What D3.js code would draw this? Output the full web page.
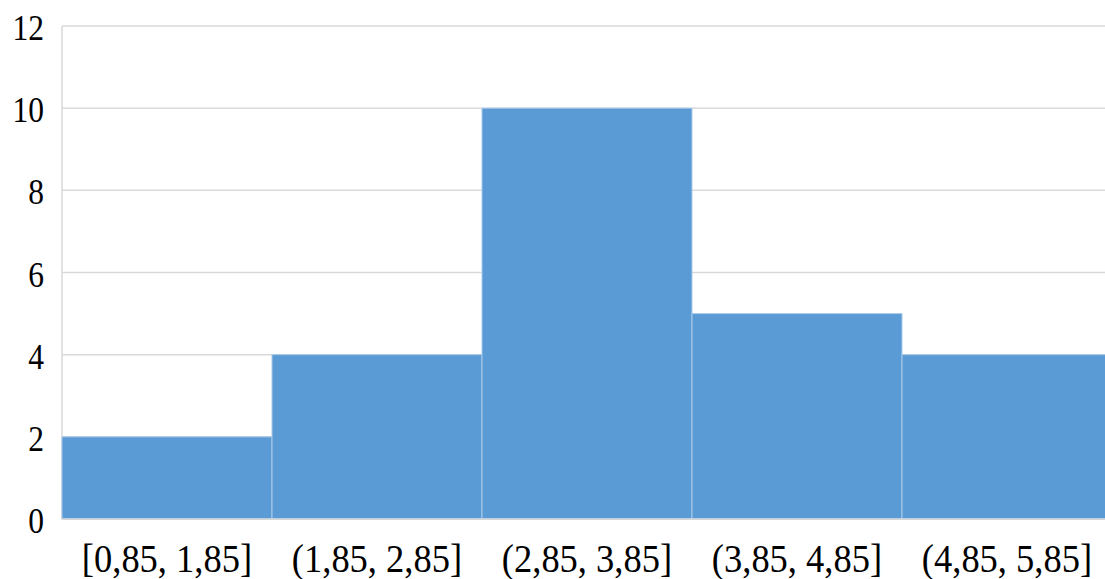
<!DOCTYPE html>
<html><head><meta charset="utf-8">
<script src="https://cdn.jsdelivr.net/npm/d3@7"></script>
<style>html,body{margin:0;padding:0;background:#fff;overflow:hidden}</style>
</head><body>
<svg id="c" width="1105" height="579"></svg>
<script>
const categories = ["[0,85, 1,85]", "(1,85, 2,85]", "(2,85, 3,85]", "(3,85, 4,85]", "(4,85, 5,85]"];
const counts = [2, 4, 10, 5, 4];
const yTicks = [0, 2, 4, 6, 8, 10, 12];

(function () {
const svg = d3.select("#c");
const mLeft = 62, mRight = 1112, mTop = 26, mBottom = 519;
const x = d3.scaleBand().domain(categories).range([mLeft, mRight]).padding(0);
const y = d3.scaleLinear().domain([0, 12]).range([mBottom, mTop]);
const font = "Liberation Serif, Times New Roman, serif";

svg.append("g").selectAll("line").data(yTicks).join("line")
  .attr("x1", mLeft).attr("x2", mRight)
  .attr("y1", d => y(d)).attr("y2", d => y(d))
  .attr("stroke", "#d9d9d9").attr("stroke-width", 1.5);
svg.append("line").attr("x1", mLeft).attr("x2", mLeft).attr("y1", mTop).attr("y2", mBottom)
  .attr("stroke", "#d9d9d9").attr("stroke-width", 1.5);

svg.append("g").selectAll("rect").data(categories).join("rect")
  .attr("x", d => x(d)).attr("width", x.bandwidth())
  .attr("y", (d, i) => y(counts[i])).attr("height", (d, i) => y(0) - y(counts[i]))
  .attr("fill", "#5b9bd5").attr("stroke", "#a9c9ea").attr("stroke-width", 1);

svg.append("line").attr("x1", mLeft).attr("x2", mRight).attr("y1", y(0)).attr("y2", y(0))
  .attr("stroke", "#d9d9d9").attr("stroke-width", 1.5);

svg.append("g").selectAll("text").data(yTicks).join("text")
  .attr("transform", d => `translate(44,${y(d) + 14}) scale(1,1.15)`)
  .attr("text-anchor", "end")
  .attr("font-family", font)
  .attr("font-size", 31.5).attr("fill", "#000")
  .text(d => d);

svg.append("g").selectAll("text").data(categories).join("text")
  .attr("transform", d => `translate(${x(d) + x.bandwidth() / 2},572) scale(1,1.1)`)
  .attr("text-anchor", "middle")
  .attr("font-family", font)
  .attr("font-size", 36.5).attr("fill", "#000")
  .text(d => d);
})();
</script>
</body></html>
